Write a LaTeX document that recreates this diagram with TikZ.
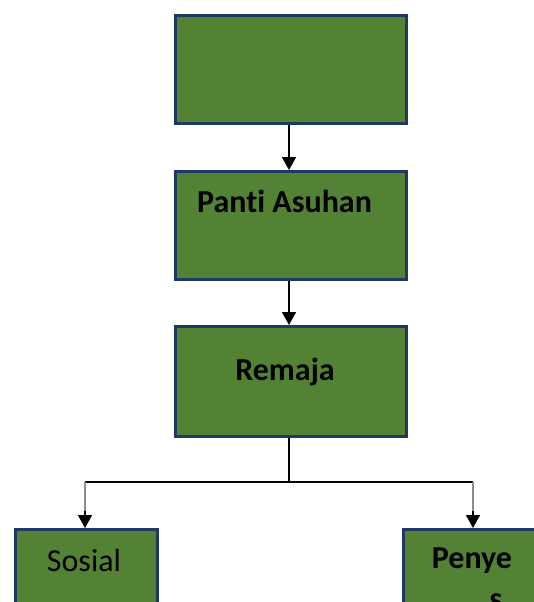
\documentclass[tikz,border=0pt]{standalone}
\usepackage{fontspec}
\setmainfont[Ligatures=NoCommon]{Carlito}
\usetikzlibrary{arrows.meta}
\definecolor{boxgreen}{HTML}{548235}
\definecolor{boxedge}{HTML}{1F3864}
\definecolor{branchgray}{HTML}{8C8C8C}
\begin{document}
\begin{tikzpicture}[x=1pt,y=-1pt,
  greenbox/.style={draw=boxedge,line width=2.6pt,fill=boxgreen,inner sep=0pt,anchor=north west},
  lbl/.style={inner sep=0pt,anchor=base,font=\fontsize{32}{38}\selectfont},
  lblb/.style={lbl,font=\fontsize{32}{38}\selectfont\bfseries},
  conn/.style={line width=1.8pt,black},
  tip/.style={-{Triangle[width=14pt,length=13pt]}},
  branch/.style={line width=1.2pt,branchgray}]
\useasboundingbox (0,0) rectangle (534,602);
\clip (0,0) rectangle (534,602);
\node[greenbox,minimum width=231pt,minimum height=108pt] (top) at (174,14) {};
\node[greenbox,minimum width=231pt,minimum height=108pt] (panti) at (174,170) {};
\node[greenbox,minimum width=231pt,minimum height=110pt] (remaja) at (174,325) {};
\node[greenbox,minimum width=142pt,minimum height=120pt] (sosial) at (14,528) {};
\node[greenbox,minimum width=160pt,minimum height=120pt] (penye) at (402,528) {};
\node[lblb] (tpanti) at (284.5,212) {Panti Asuhan};
\node[lblb] (tremaja) at (285,380) {Remaja};
\node[lbl] (tsosial) at (84,571) {Sosial};
\node[lblb] (tpenye) at (472,568) {Penye};
\node[lblb] (ts) at (496,609) {s};
\coordinate (j) at (289,482);
\coordinate (jl) at (85,482);
\coordinate (jr) at (473,482);
\coordinate (bl) at (85,512);
\coordinate (br) at (473,512);
\draw[conn,tip] (top.south -| 289,0) -- (panti.north -| 289,0);
\draw[conn,tip] (panti.south -| 289,0) -- (remaja.north -| 289,0);
\draw[conn] (remaja.south -| 289,0) -- (j);
\draw[conn] (jl) -- (jr);
\draw[branch] (jl) -- (bl);
\draw[branch] (jr) -- (br);
\draw[conn,tip,shorten <=-1pt] (bl) -- (sosial.north -| jl);
\draw[conn,tip,shorten <=-1pt] (br) -- (penye.north -| jr);
\end{tikzpicture}
\end{document}
